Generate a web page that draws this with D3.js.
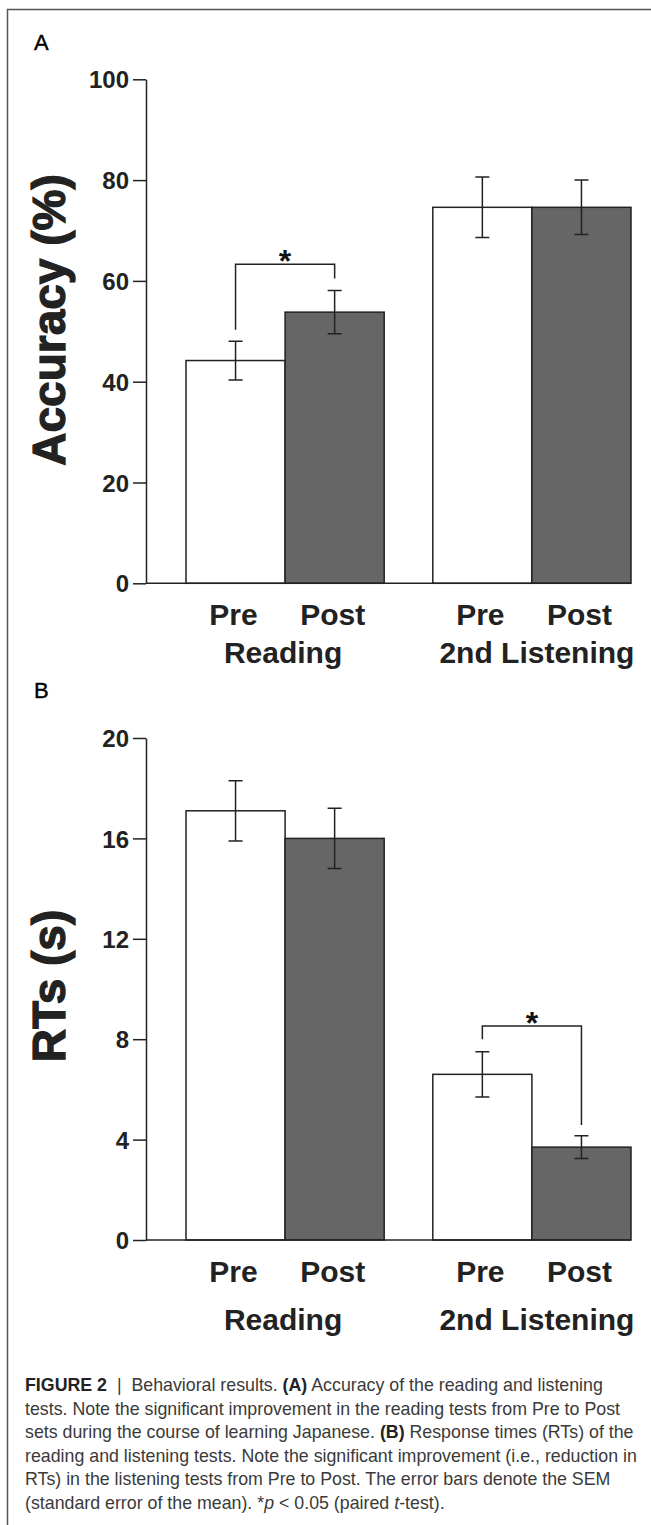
<!DOCTYPE html>
<html>
<head>
<meta charset="UTF-8">
<title>Behavioral results</title>
<style>
body { margin:0; background:#fff; }
svg { display:block; font-family:"Liberation Sans", Arial, sans-serif; }
.tick text { font-size:24px; font-weight:bold; fill:#222; }
.tick line, .domain { stroke:#222; stroke-width:1.5px; }
.base { stroke:#222; stroke-width:1.5px; }
.bar { stroke:#222; stroke-width:1.5px; }
.err, .sig { stroke:#222; stroke-width:1.5px; fill:none; }
.cat { font-size:30px; font-weight:bold; fill:#222; text-anchor:middle; }
.ytitle { font-size:46px; font-weight:bold; fill:#222; stroke:#222; stroke-width:1.2px; text-anchor:middle; }
.star { font-size:32px; font-weight:bold; fill:#111; text-anchor:middle; }
.letter { font-size:22px; fill:#000; stroke:#000; stroke-width:0.4px; }
.caption { font-size:17.8px; fill:#3a3a3a; }
</style>
</head>
<body>
<svg width="651" height="1525"></svg>
<script src="https://cdn.jsdelivr.net/npm/d3@7"></script>
<script>
const groups = ['Reading', '2nd Listening'];
const sessions = ['Pre', 'Post'];
const accMean = [44.2, 53.8, 74.6, 74.6];
const accSem = [3.85, 4.3, 6.0, 5.4];
const accTicks = [0, 20, 40, 60, 80, 100];
const rtMean = [17.1, 16.0, 6.6, 3.7];
const rtSem = [1.2, 1.2, 0.9, 0.45];
const rtTicks = [0, 4, 8, 12, 16, 20];
// significance brackets: group, left leg end, bracket top, right leg end (data units)
const accSig = ['Reading', 50.3, 63.3, 60.5];
const rtSig = ['2nd Listening', 8.0, 8.53, 4.58];
const captionLines = [
  [['FIGURE 2', 'b'], ['  |  Behavioral results. '], ['(A)', 'b'], [' Accuracy of the reading and listening']],
  [['tests. Note the significant improvement in the reading tests from Pre to Post']],
  [['sets during the course of learning Japanese. '], ['(B)', 'b'], [' Response times (RTs) of the']],
  [['reading and listening tests. Note the significant improvement (i.e., reduction in']],
  [['RTs) in the listening tests from Pre to Post. The error bars denote the SEM']],
  [['(standard error of the mean). *'], ['p', 'i'], [' < 0.05 (paired '], ['t', 'i'], ['-test).']]
];

const svg = d3.select('svg');
const axisX = 146;

svg.append('rect').attr('width', 651).attr('height', 1525).attr('fill', '#fff');
svg.append('path').attr('d', 'M7.5,1525V9.5H651').attr('fill', 'none')
  .attr('stroke', '#555').attr('stroke-width', 1.5);

const x0 = d3.scaleBand().domain(groups).range([186, 631]).paddingInner(0.197);
const x1 = d3.scaleBand().domain(sessions).range([0, x0.bandwidth()]);

function drawPanel(o) {
  const y = d3.scaleLinear().domain([0, o.max]).range(o.range);
  const g = svg.append('g');
  const rows = groups.flatMap((gr, i) => sessions.map((s, j) => ({
    g: gr, s: s, m: o.mean[i * 2 + j], e: o.sem[i * 2 + j]
  })));
  const cx = d => x0(d.g) + x1(d.s) + x1.bandwidth() / 2;

  g.append('text').attr('class', 'letter').attr('x', 34).attr('y', o.letterY).text(o.letter);

  g.selectAll('.bar').data(rows).enter().append('rect')
    .attr('class', 'bar')
    .attr('x', d => x0(d.g) + x1(d.s))
    .attr('width', x1.bandwidth())
    .attr('y', d => y(d.m))
    .attr('height', d => y(0) - y(d.m))
    .attr('fill', d => d.s === 'Pre' ? '#fff' : '#666');

  const cap = 7;
  g.selectAll('.err').data(rows).enter().append('path')
    .attr('class', 'err')
    .attr('d', d => {
      const c = cx(d), t = y(d.m + d.e), b = y(d.m - d.e);
      return `M${c - cap},${t}H${c + cap}M${c},${t}V${b}M${c - cap},${b}H${c + cap}`;
    });

  g.append('line').attr('class', 'base')
    .attr('x1', axisX).attr('x2', x0.range()[1])
    .attr('y1', y(0)).attr('y2', y(0));

  g.append('g').attr('transform', `translate(${axisX},0)`)
    .call(d3.axisLeft(y).tickValues(o.ticks).tickSize(13).tickSizeOuter(0).tickPadding(4))
    .call(a => a.selectAll('.tick text').attr('dy', '0.36em'));

  // significance bracket
  const sg = o.sig[0];
  const lx = x0(sg) + x1('Pre') + x1.bandwidth() / 2;
  const rx = x0(sg) + x1('Post') + x1.bandwidth() / 2;
  g.append('path').attr('class', 'sig')
    .attr('d', `M${lx},${y(o.sig[1])}V${y(o.sig[2])}H${rx}V${y(o.sig[3])}`);
  g.append('text').attr('class', 'star')
    .attr('x', (lx + rx) / 2).attr('y', y(o.sig[2]) + 8).text('*');

  // category labels
  g.selectAll('.sess').data(rows).enter().append('text')
    .attr('class', 'cat')
    .attr('x', d => cx(d) - 2)
    .attr('y', y(0) + 42)
    .text(d => d.s);
  g.selectAll('.grp').data(groups).enter().append('text')
    .attr('class', 'cat')
    .attr('x', d => x0(d) + x0.bandwidth() / 2 + (d === '2nd Listening' ? 5 : -2))
    .attr('y', y(0) + o.groupDy)
    .text(d => d);

  g.append('text').attr('class', 'ytitle')
    .attr('transform', `translate(65,${o.titleY}) rotate(-90)`)
    .text(o.title);
}

drawPanel({ mean: accMean, sem: accSem, max: 100, ticks: accTicks, range: [583.3, 79.3],
  sig: accSig, letter: 'A', letterY: 50, title: 'Accuracy (%)', titleY: 320, groupDy: 80 });
drawPanel({ mean: rtMean, sem: rtSem, max: 20, ticks: rtTicks, range: [1240, 738],
  sig: rtSig, letter: 'B', letterY: 698, title: 'RTs (s)', titleY: 986, groupDy: 90 });

// caption
const capG = svg.append('g').attr('class', 'caption');
captionLines.forEach((line, i) => {
  const t = capG.append('text').attr('x', 25).attr('y', 1391 + i * 23.5)
    .attr('xml:space', 'preserve').style('white-space', 'pre');
  line.forEach(seg => {
    const ts = t.append('tspan').text(seg[0]);
    if (seg[1] === 'b') ts.attr('font-weight', 'bold').attr('fill', '#222');
    if (seg[1] === 'i') ts.attr('font-style', 'italic');
  });
});
</script>
</body>
</html>
